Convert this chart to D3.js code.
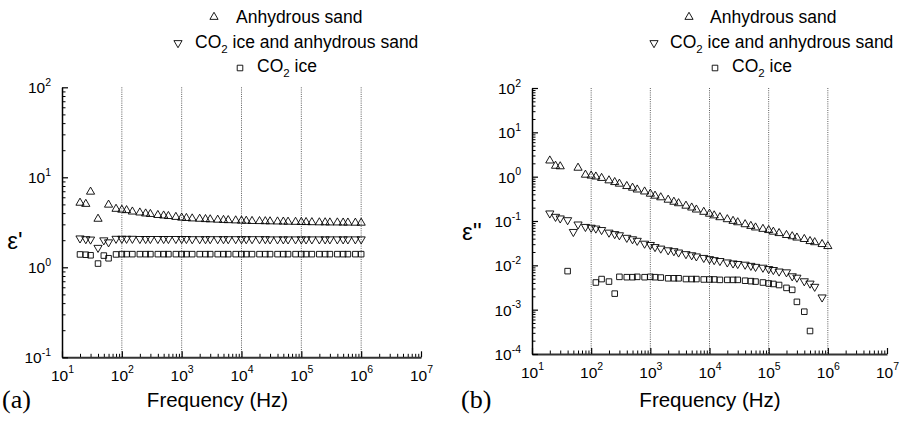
<!DOCTYPE html>
<html>
<head>
<meta charset="utf-8">
<script src="https://cdn.jsdelivr.net/npm/d3@7"></script>
<style>
  body { margin: 0; background: #fff; }
  svg { display: block; font-family: "Liberation Sans", Arial, sans-serif; }
</style>
</head>
<body>
<svg id="chart" width="902" height="422"></svg>
<script>
// measurement frequencies (Hz)
const freqs = [20, 25, 30, 40, 50, 60, 80,
  100, 120, 150, 200, 250, 300, 400, 500, 600, 800,
  1e3, 1.2e3, 1.5e3, 2e3, 2.5e3, 3e3, 4e3, 5e3, 6e3, 8e3,
  1e4, 1.2e4, 1.5e4, 2e4, 2.5e4, 3e4, 4e4, 5e4, 6e4, 8e4,
  1e5, 1.2e5, 1.5e5, 2e5, 2.5e5, 3e5, 4e5, 5e5, 6e5, 8e5,
  1e6];

// (a) real permittivity
const realSand = [5.2, 5.05, 6.9, 3.45, null, 4.95, 4.45,
  4.35, 4.3, 4.15, 4.05, 3.95, 3.9, 3.8, 3.75, 3.7, 3.62,
  3.55, 3.52, 3.48, 3.45, 3.42, 3.4, 3.37, 3.35, 3.33, 3.31,
  3.29, 3.28, 3.26, 3.25, 3.24, 3.23, 3.22, 3.21, 3.2, 3.19,
  3.18, 3.17, 3.16, 3.15, 3.15, 3.14, 3.14, 3.13, 3.13, 3.12,
  3.12];
const realMix = [2.1, 2.06, 2.04, 1.65, 2.0, 1.9, 2.08,
  2.08, 2.08, 2.08, 2.07, 2.07, 2.07, 2.07, 2.07, 2.07, 2.07,
  2.07, 2.07, 2.06, 2.06, 2.06, 2.06, 2.06, 2.06, 2.06, 2.06,
  2.06, 2.06, 2.06, 2.06, 2.06, 2.05, 2.05, 2.05, 2.05, 2.05,
  2.05, 2.05, 2.05, 2.05, 2.05, 2.05, 2.05, 2.05, 2.05, 2.05,
  2.05];
const realIce = [1.39, 1.38, 1.36, 1.1, 1.35, 1.26, 1.39,
  1.4, 1.4, 1.4, 1.4, 1.4, 1.4, 1.4, 1.4, 1.4, 1.4,
  1.4, 1.4, 1.4, 1.4, 1.4, 1.4, 1.4, 1.4, 1.4, 1.4,
  1.4, 1.4, 1.4, 1.4, 1.4, 1.4, 1.4, 1.4, 1.4, 1.4,
  1.4, 1.4, 1.4, 1.4, 1.4, 1.4, 1.4, 1.4, 1.4, 1.4,
  1.4];

// (b) imaginary permittivity
const imagSand = [2.3, 1.75, 1.7, null, null, 1.58, 1.1,
  1.05, 1.0, 0.93, 0.82, 0.75, 0.69, 0.61, 0.56, 0.51, 0.46,
  0.41, 0.37, 0.34, 0.30, 0.27, 0.25, 0.22, 0.20, 0.18, 0.16,
  0.145, 0.133, 0.121, 0.109, 0.10, 0.093, 0.084, 0.077, 0.071, 0.066,
  0.062, 0.057, 0.053, 0.048, 0.045, 0.042, 0.039, 0.035, 0.033, 0.030,
  0.027];
const imagMix = [0.149, 0.125, 0.115, 0.105, 0.057, 0.084, 0.074,
  0.071, 0.068, 0.063, 0.055, 0.051, 0.048, 0.042, 0.039, 0.036, 0.031,
  0.029, 0.026, 0.024, 0.022, 0.021, 0.0196, 0.018, 0.017, 0.016, 0.0148,
  0.0139, 0.0132, 0.0126, 0.0117, 0.0111, 0.0108, 0.0104, 0.0098, 0.0093, 0.0089,
  0.0083, 0.0079, 0.0073, 0.0070, 0.0057, 0.0053, 0.0044, 0.0039, 0.0033, 0.0019,
  null];
const imagIce = [null, null, null, 0.0074, null, null, null,
  null, 0.0041, 0.0049, 0.0043, 0.0023, 0.0055, 0.0054, 0.0054, 0.0055, 0.0054,
  0.0055, 0.0054, 0.0053, 0.0051, 0.0051, 0.0051, 0.0049, 0.0049, 0.0049, 0.0048,
  0.0048, 0.0048, 0.0047, 0.0047, 0.0047, 0.0047, 0.0045, 0.0044, 0.0043, 0.0041,
  0.0039, 0.0038, 0.0036, 0.0031, 0.0028, 0.0015, 0.0009, 0.00033, null, null,
  null];

const xTicks = [1, 2, 3, 4, 5, 6, 7];      // exponents of 10
const gridTicks = [2, 3, 4, 5, 6];
const legendNames = ["Anhydrous sand", "ice and anhydrous sand", "ice"];

const svg = d3.select("#chart");

const panels = [
  { x0: 62, x1: 421, yTop: 87.3, yBot: 357.3, yExp: [-1, 0, 1, 2], title: "\u03b5'",
    titleX: 15, titleY: 249, labelX: 217.5, tag: "(a)", tagX: 2,
    legX: [214, 178, 240], legTx: [236, 195, 257],
    series: [realSand, realMix, realIce] },
  { x0: 532, x1: 887, yTop: 88, yBot: 354, yExp: [-4, -3, -2, -1, 0, 1, 2], title: "\u03b5''",
    titleX: 472, titleY: 240, labelX: 710, tag: "(b)", tagX: 461,
    legX: [689, 654, 715], legTx: [710, 670, 732],
    series: [imagSand, imagMix, imagIce] }
];

const triUp = d3.symbol().type(d3.symbolTriangle).size(29);
const square = d3.symbol().type(d3.symbolSquare).size(31);

function expLabel(sel, e) {
  sel.append("tspan").text("10");
  sel.append("tspan").attr("font-size", 10.5).attr("dy", -7.5).text(e);
}

panels.forEach(p => {
  const ymin = Math.pow(10, p.yExp[0]), ymax = Math.pow(10, p.yExp[p.yExp.length - 1]);
  const x = d3.scaleLog().domain([10, 1e7]).range([p.x0, p.x1]);
  const y = d3.scaleLog().domain([ymin, ymax]).range([p.yBot, p.yTop]);
  const g = svg.append("g");

  // dotted vertical grid
  g.selectAll(".grid").data(gridTicks).join("line")
    .attr("x1", d => x(Math.pow(10, d))).attr("x2", d => x(Math.pow(10, d)))
    .attr("y1", p.yTop).attr("y2", p.yBot)
    .attr("stroke", "#333").attr("stroke-width", 0.8).attr("stroke-dasharray", "1,1.2");

  // minor ticks
  const xMinor = [];
  for (let e = 1; e < 7; e++) for (let m = 2; m <= 9; m++) xMinor.push(m * Math.pow(10, e));
  const yMinor = [];
  for (let e = p.yExp[0]; e < p.yExp[p.yExp.length - 1]; e++) for (let m = 2; m <= 9; m++) yMinor.push(m * Math.pow(10, e));

  g.append("g").attr("transform", `translate(0,${p.yBot})`)
    .call(d3.axisBottom(x).tickValues(xMinor).tickSize(-3.5).tickSizeOuter(0).tickFormat(""))
    .call(a => a.select(".domain").remove())
    .selectAll("line").attr("stroke", "#000");
  g.append("g").attr("transform", `translate(${p.x0},0)`)
    .call(d3.axisLeft(y).tickValues(yMinor).tickSize(-3.5).tickSizeOuter(0).tickFormat(""))
    .call(a => a.select(".domain").remove())
    .selectAll("line").attr("stroke", "#000");

  // major x axis
  const xa = g.append("g").attr("transform", `translate(0,${p.yBot})`)
    .call(d3.axisBottom(x).tickValues(xTicks.map(e => Math.pow(10, e))).tickSize(-6).tickSizeOuter(0).tickFormat(""));
  xa.select(".domain").attr("stroke", "#333").attr("stroke-width", 2);
  xa.selectAll(".tick line").attr("stroke", "#000").attr("stroke-width", 1.2);
  xa.selectAll(".tick text").remove();
  xa.selectAll(".tick").append("text")
    .attr("y", 23.5).attr("fill", "#000").attr("text-anchor", "middle")
    .attr("font-size", 15.5).attr("font-family", "Liberation Sans, Arial, sans-serif")
    .each(function(d) { expLabel(d3.select(this), Math.round(Math.log10(d))); });

  // major y axis
  const ya = g.append("g").attr("transform", `translate(${p.x0},0)`)
    .call(d3.axisLeft(y).tickValues(p.yExp.map(e => Math.pow(10, e))).tickSize(-6).tickSizeOuter(0).tickFormat(""));
  ya.select(".domain").attr("stroke", "#000").attr("stroke-width", 1.5);
  ya.selectAll(".tick line").attr("stroke", "#000").attr("stroke-width", 1.2);
  ya.selectAll(".tick text").remove();
  ya.selectAll(".tick").append("text")
    .attr("x", -11).attr("y", 5.5).attr("fill", "#000").attr("text-anchor", "end")
    .attr("font-size", 15.5).attr("font-family", "Liberation Sans, Arial, sans-serif")
    .each(function(d) { expLabel(d3.select(this), Math.round(Math.log10(d))); });

  // markers
  const shapes = [
    { sym: triUp, rot: 0 },
    { sym: triUp, rot: 180 },
    { sym: square, rot: 0 }
  ];
  p.series.forEach((vals, si) => {
    const pts = freqs.map((f, i) => ({ f, v: vals[i] })).filter(d => d.v != null);
    g.append("g").selectAll("path").data(pts).join("path")
      .attr("d", shapes[si].sym())
      .attr("transform", d => `translate(${x(d.f)},${y(d.v)}) rotate(${shapes[si].rot})`)
      .attr("fill", "none").attr("stroke", "#000").attr("stroke-width", 0.9);
  });

  // legend
  const legY = [17, 43, 68];
  const legBase = [22.7, 48.3, 71.7];
  shapes.forEach((s, i) => {
    g.append("path").attr("d", s.sym())
      .attr("transform", `translate(${p.legX[i]},${legY[i]}) rotate(${s.rot})`)
      .attr("fill", "none").attr("stroke", "#000").attr("stroke-width", 0.9);
    const t = g.append("text").attr("x", p.legTx[i]).attr("y", legBase[i]).attr("font-size", 17.5);
    if (i === 0) {
      t.text(legendNames[0]);
    } else {
      t.append("tspan").text("CO");
      t.append("tspan").attr("font-size", 11.5).attr("dy", 5).text("2");
      t.append("tspan").attr("dy", -5).text(" " + legendNames[i]);
    }
  });

  // axis titles
  g.append("text").attr("x", p.titleX).attr("y", p.titleY).attr("text-anchor", "middle")
    .attr("font-size", 24).text(p.title);
  g.append("text").attr("x", p.labelX).attr("y", 407).attr("text-anchor", "middle")
    .attr("font-size", 20.5).text("Frequency (Hz)");
  g.append("text").attr("x", p.tagX).attr("y", 408)
    .attr("font-family", "Liberation Serif, Times New Roman, serif").attr("font-size", 26).text(p.tag);
});
</script>
</body>
</html>
